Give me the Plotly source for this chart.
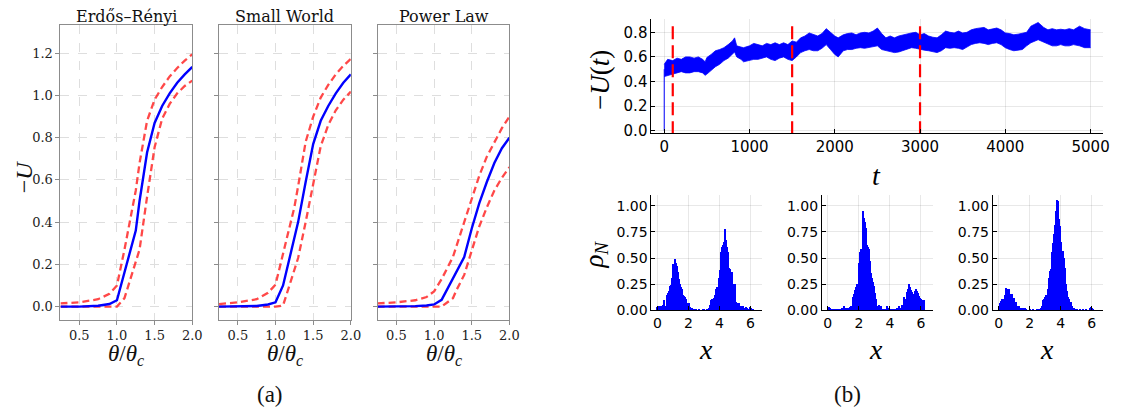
import numpy as np
import plotly.graph_objects as go

# ---------------- data: left panels (-U vs theta/theta_c) ----------------
theta = [0.25, 0.5, 0.75, 0.9, 1.0, 1.1, 1.25, 1.3, 1.4, 1.5, 1.6, 1.7, 1.8, 1.9, 2.0]

er_mean  = [0.0, 0.0, 0.004, 0.012, 0.03, 0.16, 0.36, 0.50, 0.73, 0.87, 0.95, 1.01, 1.06, 1.10, 1.135]
er_upper = [0.015, 0.02, 0.035, 0.06, 0.10, 0.27, 0.55, 0.68, 0.88, 0.98, 1.04, 1.09, 1.13, 1.165, 1.195]
er_lower = [0.0, 0.0, 0.0, 0.0, 0.0, 0.04, 0.21, 0.27, 0.52, 0.755, 0.89, 0.96, 1.01, 1.045, 1.07]

sw_mean  = [0.0, 0.0, 0.003, 0.01, 0.02, 0.10, 0.32, 0.40, 0.59, 0.77, 0.88, 0.95, 1.01, 1.06, 1.10]
sw_upper = [0.012, 0.02, 0.035, 0.065, 0.104, 0.25, 0.47, 0.57, 0.78, 0.90, 0.99, 1.05, 1.10, 1.14, 1.174]
sw_lower = [0.0, 0.0, 0.0, 0.0, 0.0, 0.005, 0.17, 0.23, 0.40, 0.58, 0.76, 0.86, 0.93, 0.98, 1.018]

pl_mean  = [0.0, 0.0, 0.002, 0.005, 0.01, 0.032, 0.13, 0.165, 0.235, 0.37, 0.49, 0.59, 0.68, 0.75, 0.80]
pl_upper = [0.015, 0.02, 0.03, 0.045, 0.072, 0.13, 0.235, 0.29, 0.39, 0.51, 0.62, 0.71, 0.78, 0.845, 0.90]
pl_lower = [0.0, 0.0, 0.0, 0.0, 0.0, 0.0, 0.04, 0.08, 0.15, 0.26, 0.38, 0.47, 0.55, 0.61, 0.66]

panel_titles = ["Erdős–Rényi", "Small World", "Power Law"]
left_yticks = [0.0, 0.2, 0.4, 0.6, 0.8, 1.0, 1.2]
left_xticks = [0.5, 1.0, 1.5, 2.0]

# ---------------- data: time series -U(t) (band envelope) ----------------
t_start = [0, 0]
u_start = [0.0, 0.50]
t_env = [0, 40, 100, 150, 200, 250, 300, 350, 400, 450, 480, 500, 550, 600, 650, 700, 750, 800, 825, 850,
         900, 930, 1000, 1050, 1100, 1150, 1200, 1250, 1300, 1350, 1400, 1450, 1500, 1550, 1600, 1650,
         1700, 1750, 1800, 1850, 1900, 1950, 2000, 2040, 2100, 2150, 2200, 2250, 2300, 2350, 2400,
         2450, 2500, 2550, 2600, 2650, 2700, 2750, 2800, 2850, 2900, 2950, 3000, 3050, 3100, 3150,
         3200, 3250, 3300, 3350, 3400, 3450, 3500, 3550, 3600, 3650, 3700, 3750, 3800, 3850, 3900,
         3950, 4000, 4050, 4100, 4150, 4200, 4250, 4300, 4385, 4450, 4500, 4550, 4600, 4650, 4700,
         4750, 4800, 4870, 4930, 5000]
u_upper = [0.54, 0.58, 0.57, 0.59, 0.58, 0.60, 0.60, 0.59, 0.60, 0.58, 0.56, 0.595, 0.62, 0.65, 0.66,
           0.675, 0.70, 0.73, 0.755, 0.69, 0.68, 0.675, 0.69, 0.71, 0.70, 0.69, 0.71, 0.70, 0.715,
           0.70, 0.715, 0.70, 0.73, 0.72, 0.755, 0.77, 0.795, 0.78, 0.77, 0.79, 0.83, 0.80, 0.77,
           0.755, 0.78, 0.79, 0.795, 0.78, 0.795, 0.80, 0.795, 0.81, 0.835, 0.79, 0.755, 0.77,
           0.755, 0.77, 0.78, 0.79, 0.795, 0.80, 0.78, 0.79, 0.77, 0.76, 0.755, 0.78, 0.81, 0.80,
           0.795, 0.81, 0.795, 0.80, 0.82, 0.83, 0.835, 0.84, 0.82, 0.83, 0.835, 0.82, 0.795, 0.79,
           0.78, 0.785, 0.795, 0.80, 0.85, 0.88, 0.84, 0.82, 0.83, 0.82, 0.825, 0.82, 0.83, 0.82,
           0.85, 0.83, 0.82]
u_lower = [0.44, 0.45, 0.46, 0.47, 0.48, 0.47, 0.47, 0.48, 0.48, 0.47, 0.45, 0.46, 0.49, 0.52, 0.54,
           0.57, 0.59, 0.62, 0.64, 0.60, 0.58, 0.56, 0.57, 0.58, 0.58, 0.59, 0.60, 0.58, 0.57,
           0.59, 0.60, 0.58, 0.57, 0.60, 0.635, 0.65, 0.66, 0.65, 0.65, 0.67, 0.70, 0.66, 0.62,
           0.60, 0.65, 0.66, 0.66, 0.67, 0.675, 0.67, 0.675, 0.68, 0.69, 0.66, 0.65, 0.64,
           0.635, 0.64, 0.65, 0.66, 0.675, 0.67, 0.66, 0.655, 0.65, 0.64, 0.635, 0.65, 0.675, 0.67,
           0.675, 0.67, 0.66, 0.68, 0.70, 0.71, 0.715, 0.71, 0.70, 0.71, 0.715, 0.70, 0.675, 0.66,
           0.65, 0.655, 0.66, 0.69, 0.715, 0.74, 0.72, 0.70, 0.69, 0.69, 0.70, 0.69, 0.69, 0.70,
           0.69, 0.675, 0.675]
t_marks = [100, 1500, 3000]
ts_yticks = [0.0, 0.2, 0.4, 0.6, 0.8]
ts_xticks = [0, 1000, 2000, 3000, 4000, 5000]

# ---------------- data: histograms rho_N(x), 100 bins on [0, 2pi] ----------------
hist1 = [0.03, 0.04, 0.035, 0.03, 0.04, 0.03, 0.05, 0.09, 0.02, 0.035,
         0.14, 0.16, 0.18, 0.23, 0.24, 0.30, 0.44, 0.43, 0.49, 0.45,
         0.42, 0.36, 0.29, 0.25, 0.22, 0.20, 0.14, 0.13, 0.12, 0.10,
         0.05, 0.06, 0.065, 0.03, 0.02, 0.01, 0.005, 0.005, 0.005, 0.0,
         0.005, 0.0, 0.0, 0.005, 0.0, 0.0, 0.0, 0.005, 0.005, 0.0,
         0.0, 0.005, 0.005, 0.01, 0.05, 0.09, 0.10, 0.10, 0.11, 0.14,
         0.20, 0.22, 0.21, 0.30, 0.38, 0.55, 0.60, 0.62, 0.65, 0.77,
         0.67, 0.60, 0.55, 0.40, 0.39, 0.32, 0.36, 0.30, 0.17, 0.25,
         0.25, 0.07, 0.06, 0.05, 0.06, 0.03, 0.04, 0.02, 0.04, 0.02,
         0.01, 0.03, 0.015, 0.005, 0.005, 0.03, 0.02, 0.005, 0.005, 0.0]
hist2 = [0.03, 0.03, 0.02, 0.005, 0.005, 0.0, 0.005, 0.0, 0.005, 0.005,
         0.0, 0.005, 0.0, 0.005, 0.01, 0.02, 0.035, 0.02, 0.01, 0.01,
         0.02, 0.01, 0.03, 0.035, 0.04, 0.12, 0.15, 0.19, 0.22, 0.25,
         0.22, 0.45, 0.55, 0.58, 0.58, 0.95, 0.91, 0.88, 0.84, 0.78,
         0.62, 0.60, 0.58, 0.47, 0.35, 0.30, 0.27, 0.23, 0.16, 0.10,
         0.04, 0.015, 0.05, 0.03, 0.035, 0.005, 0.005, 0.0, 0.005, 0.005,
         0.035, 0.02, 0.005, 0.005, 0.0, 0.005, 0.0, 0.005, 0.005, 0.0,
         0.02, 0.015, 0.035, 0.02, 0.02, 0.05, 0.05, 0.08, 0.12, 0.07,
         0.10, 0.17, 0.20, 0.25, 0.22, 0.19, 0.17, 0.135, 0.15, 0.18,
         0.20, 0.18, 0.16, 0.13, 0.11, 0.10, 0.09, 0.09, 0.09, 0.0]
hist3 = [0.04, 0.06, 0.08, 0.10, 0.09, 0.10, 0.14, 0.21, 0.20, 0.14,
         0.20, 0.15, 0.12, 0.15, 0.11, 0.11, 0.06, 0.07, 0.035, 0.03,
         0.035, 0.015, 0.015, 0.01, 0.015, 0.005, 0.01, 0.005, 0.0, 0.0,
         0.0, 0.005, 0.0, 0.0, 0.005, 0.0, 0.0, 0.0, 0.0, 0.005,
         0.005, 0.0, 0.005, 0.02, 0.035, 0.09, 0.10, 0.12, 0.14, 0.14,
         0.20, 0.30, 0.37, 0.39, 0.55, 0.64, 0.73, 0.81, 0.95, 1.05,
         1.04, 0.87, 0.80, 0.65, 0.56, 0.56, 0.50, 0.40, 0.245, 0.18,
         0.12, 0.10, 0.07, 0.07, 0.05, 0.04, 0.02, 0.01, 0.005, 0.0,
         0.005, 0.0, 0.0, 0.005, 0.0, 0.0, 0.005, 0.0, 0.0, 0.005,
         0.0, 0.0, 0.0, 0.01, 0.03, 0.02, 0.005, 0.0, 0.0, 0.0]
hist_yticks = [0.0, 0.25, 0.5, 0.75, 1.0]
hist_xticks = [0, 2, 4, 6]

# ---------------- layout helpers ----------------
W, H = 1122, 412
def px(x): return x / W
def py(y): return 1 - y / H

SERIF = "DejaVu Serif"
SANS = "DejaVu Sans"
MATH = "Liberation Serif"
BLUE = "#0000ff"
RED = "rgba(255,40,40,0.85)"

fig = go.Figure()
layout = dict(width=W, height=H, margin=dict(l=0, r=0, t=0, b=0),
              paper_bgcolor="white", plot_bgcolor="white", showlegend=False)

annotations = []
def label(text, x, y, size, family=MATH, angle=0, color="#111"):
    annotations.append(dict(text=text, x=px(x), y=py(y), xref="paper", yref="paper",
                            xanchor="center", yanchor="middle", textangle=angle, showarrow=False,
                            font=dict(family=family, size=size, color=color)))

left_domains = [(61, 194), (221, 354), (381, 514)]
left_sets = [(er_mean, er_upper, er_lower), (sw_mean, sw_upper, sw_lower), (pl_mean, pl_upper, pl_lower)]
for i, ((x0, x1), (m, u, lo)) in enumerate(zip(left_domains, left_sets)):
    n = i + 1
    xa, ya = ("x" if n == 1 else f"x{n}"), ("y" if n == 1 else f"y{n}")
    for yy in (u, lo):
        fig.add_trace(go.Scatter(x=theta, y=yy, mode="lines", xaxis=xa, yaxis=ya,
                                 line=dict(color=RED, width=2.3, dash="7px,4px")))
    fig.add_trace(go.Scatter(x=theta, y=m, mode="lines", xaxis=xa, yaxis=ya,
                             line=dict(color=BLUE, width=2.4)))
    common = dict(showline=True, mirror=True, linecolor="#8c8c8c", linewidth=1,
                  showgrid=True, gridcolor="#dedede", griddash="dash", gridwidth=1,
                  zeroline=False, ticks="outside", ticklen=4, tickcolor="#8c8c8c",
                  tickfont=dict(family=SERIF, size=13, color="#222"))
    layout[f"xaxis{'' if n == 1 else n}"] = dict(domain=[px(x0), px(x1)], anchor=ya,
        range=[0.25, 2.0], tickvals=left_xticks, ticktext=[f"{v:.1f}" for v in left_xticks], **common)
    yax = dict(domain=[py(326), py(25)], anchor=xa, range=[-0.062, 1.336], tickvals=left_yticks,
               showticklabels=(n == 1), **common)
    if n == 1:
        yax["ticktext"] = [f"{v:.1f}" for v in left_yticks]
    layout[f"yaxis{'' if n == 1 else n}"] = yax
    label(panel_titles[i], (x0 + x1) / 2, 17, 16, family=SERIF)
    label("<i>θ</i>/<i>θ</i><sub><i>c</i></sub>", (x0 + x1) / 2, 362, 23)

label("−<i>U</i>", 24, 180, 24, angle=-90)

# time series axes (x4, y4)
julia_axis = dict(showline=True, mirror=False, linecolor="#000", linewidth=1, showgrid=True,
                  gridcolor="rgba(0,0,0,0.09)", gridwidth=1, zeroline=False, ticks="inside",
                  ticklen=4, tickcolor="#000", tickfont=dict(family=SANS, size=15, color="#000"))
fig.add_trace(go.Scatter(x=t_env, y=u_lower, mode="lines", xaxis="x4", yaxis="y4",
                         line=dict(color=BLUE, width=0.8)))
fig.add_trace(go.Scatter(x=t_env, y=u_upper, mode="lines", xaxis="x4", yaxis="y4", fill="tonexty",
                         fillcolor=BLUE, line=dict(color=BLUE, width=0.8)))
fig.add_trace(go.Scatter(x=t_start, y=u_start, mode="lines", xaxis="x4", yaxis="y4",
                         line=dict(color=BLUE, width=1)))
for tm in t_marks:
    fig.add_trace(go.Scatter(x=[tm, tm], y=[0.85, -0.02], mode="lines", xaxis="x4", yaxis="y4",
                             line=dict(color="#ff0000", width=2.2, dash="13px,6px")))
layout["xaxis4"] = dict(domain=[px(657.3), px(1113.3)], anchor="y4", range=[-150, 5150],
                        tickvals=ts_xticks, **julia_axis)
layout["yaxis4"] = dict(domain=[py(136), py(19.3)], anchor="x4", range=[-0.022, 0.909],
                        tickvals=ts_yticks, ticktext=[f"{v:.1f}" for v in ts_yticks], **julia_axis)
label("−<i>U</i>(<i>t</i>)", 606, 82, 27, angle=-90, color="#000")
label("<i>t</i>", 884, 179, 28, color="#000")

# histograms
hist_axis = dict(julia_axis, tickfont=dict(family=SANS, size=14, color="#000"))
nb = 100
edges = np.linspace(0, 2 * np.pi, nb + 1)
centers = (edges[:-1] + edges[1:]) / 2
bw = edges[1] - edges[0]
hist_domains = [(657.3, 769), (829.3, 941), (1001.7, 1113.3)]
for k, (h, (x0, x1)) in enumerate(zip([hist1, hist2, hist3], hist_domains)):
    n = 5 + k
    fig.add_trace(go.Bar(x=centers, y=h, width=bw, xaxis=f"x{n}", yaxis=f"y{n}",
                         marker=dict(color=BLUE, line=dict(width=0))))
    layout[f"xaxis{n}"] = dict(domain=[px(x0), px(x1)], anchor=f"y{n}", range=[-0.38, 6.75],
                               tickvals=hist_xticks, **hist_axis)
    layout[f"yaxis{n}"] = dict(domain=[py(316.3), py(199.3)], anchor=f"x{n}", range=[0, 1.1],
                               tickvals=hist_yticks, ticktext=[f"{v:.2f}" for v in hist_yticks], **hist_axis)
    label("<i>x</i>", (x0 + x1) / 2 - 1, 356, 28, color="#000")
layout["bargap"] = 0
label("<i>ρ</i><sub><i>N</i></sub>", 601, 260, 27, angle=-90, color="#000")

label("(a)", 272, 402, 23)
label("(b)", 855, 402, 23)
layout["annotations"] = annotations
fig.update_layout(**layout)
fig.write_html("out.html", config={"displayModeBar": False},
               post_script="document.body.style.margin='0';document.body.style.overflow='hidden';"
                           "document.documentElement.style.overflow='hidden';")
